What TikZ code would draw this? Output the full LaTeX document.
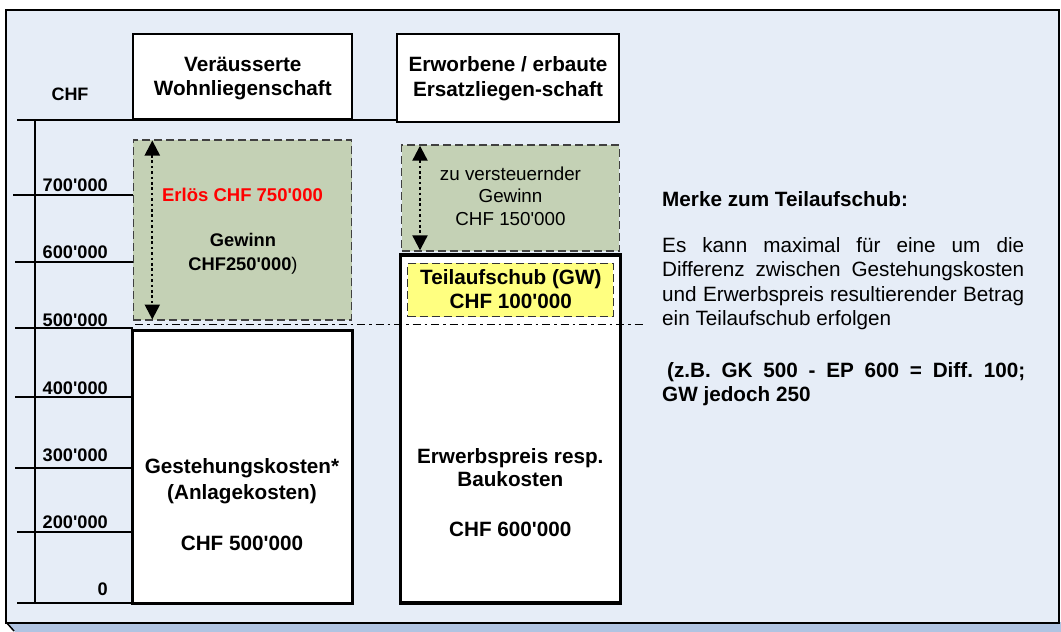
\documentclass[tikz,border=0pt]{standalone}
\usepackage{fontspec}
\setmainfont{Liberation Sans}[Ligatures=TeXOff]
\usetikzlibrary{arrows.meta}
\definecolor{bg}{RGB}{230,237,247}
\definecolor{strip}{RGB}{176,196,226}
\definecolor{gain}{RGB}{196,209,181}
\definecolor{yel}{RGB}{255,255,128}
\definecolor{erl}{RGB}{255,0,0}
\tikzset{
  frame/.style={draw=black, line width=2pt, fill=bg, inner sep=0},
  hdr/.style={draw=black, line width=2.2pt, fill=white, inner sep=0},
  bar/.style={draw=black, line width=3.5pt, fill=white, inner sep=0},
  gainbox/.style={draw=black!75, line width=1.4pt, dash pattern=on 8pt off 4pt, fill=gain, inner sep=0},
  yelbox/.style={draw=black!80, line width=1.4pt, dash pattern=on 8pt off 4pt, fill=yel, inner sep=0},
  axisline/.style={line width=2pt},
  spanarrow/.style={line width=2.2pt, dash pattern=on 2.6pt off 2.8pt,
    {Triangle[length=15pt,width=15pt]}-{Triangle[length=15pt,width=15pt]}},
  refline/.style={line width=1.5pt, dash pattern=on 8pt off 4pt on 2.5pt off 4pt},
  lab/.style={font=\fontsize{18.2}{20}\selectfont\bfseries, anchor=base east, inner sep=0},
  tb/.style={font=\fontsize{20.7}{24}\selectfont\bfseries, anchor=base, inner sep=0},
  tr/.style={font=\fontsize{20.7}{24}\selectfont, anchor=base, inner sep=0},
  ts/.style={font=\fontsize{18.8}{22}\selectfont, anchor=base, inner sep=0},
  tm/.style={font=\fontsize{18.3}{22}\selectfont\bfseries, anchor=base, inner sep=0},
}
\frenchspacing
\begin{document}
\frenchspacing
\begin{tikzpicture}[x=1pt,y=-1pt]
\useasboundingbox (0,0) rectangle (1061,632);
% frame with bottom bevel
\fill[strip] (6,622) -- (1061,622) -- (1061,632) -- (15,632) -- cycle;
\draw[line width=1.5pt] (6,622) -- (14,631);
\node[frame, minimum width=1053pt, minimum height=613pt] (fr) at (532.5,316.5) {};

% axis
\coordinate (atop) at (35,120);
\coordinate (abot) at (35,603);
\coordinate (ltop) at (17,120);
\coordinate (rtop) at (397,120);
\draw[axisline] (ltop) -- (rtop);
\draw[axisline] (atop) -- (abot);
\foreach \y/\x in {195/13, 262/15, 328/15, 396.5/15, 467.5/15, 532.3/17, 603/17}
  \draw[axisline] (\x,\y) -- (133,\y);
\node[lab, anchor=base] (chf) at (70,100.7) {\fontsize{18}{20}\selectfont CHF};
\node[lab] (l700) at (108,191.7) {700'000};
\node[lab] (l600) at (108,258.3) {600'000};
\node[lab] (l500) at (108,326) {500'000};
\node[lab] (l400) at (108,394) {400'000};
\node[lab] (l300) at (108,461.7) {300'000};
\node[lab] (l200) at (108,528.3) {200'000};
\node[lab] (l0) at (108,595) {0};

% headers
\node[hdr, minimum width=219pt, minimum height=85pt] (hl) at (242.8,76.5) {};
\node[tb] (hl1) at (242.8,71) {Veräusserte};
\node[tb] (hl2) at (242.8,95.7) {Wohnliegenschaft};
\node[hdr, minimum width=222.6pt, minimum height=88.3pt] (hr) at (508,78.2) {};
\node[tb] (hr1) at (508,71.7) {Erworbene / erbaute};
\node[tb] (hr2) at (508,96.7) {Ersatzliegen-schaft};

% left column
\node[gainbox, minimum width=218.4pt, minimum height=180pt] (gl) at (242.5,230) {};
\coordinate (glt) at (152.3,140.5);
\coordinate (glb) at (152.3,319.5);
\draw[spanarrow] (glt) -- (glb);
\node[tm, text=erl, font=\fontsize{18.5}{22}\selectfont\bfseries] (erl) at (242.5,201.7) {Erlös CHF 750'000};
\node[tm] (gw1) at (243,246.7) {Gewinn};
\node[tm] (gw2) at (243,270) {CHF250'000\mdseries)};
\node[bar, minimum width=220pt, minimum height=272.6pt] (bl) at (242.7,467) {};
\node[tb] (bl1) at (242,473.3) {Gestehungskosten*};
\node[tb] (bl2) at (242,499.3) {(Anlagekosten)};
\node[tb] (bl3) at (242,550) {CHF 500'000};

% right column
\node[gainbox, minimum width=217.6pt, minimum height=106pt] (gr) at (510.5,198) {};
\coordinate (grt) at (420,145.7);
\coordinate (grb) at (420,250.3);
\draw[spanarrow] (grt) -- (grb);
\node[ts] (zv1) at (510.5,180) {zu versteuernder};
\node[ts] (zv2) at (510.5,202.3) {Gewinn};
\node[ts] (zv3) at (510.5,225.7) {CHF 150'000};
\node[bar, minimum width=220pt, minimum height=347.7pt] (br) at (510.7,428.9) {};
\node[yelbox, minimum width=205.6pt, minimum height=53.4pt] (ta) at (510.5,290) {};
\node[tb] (ta1) at (510.8,284) {Teilaufschub (GW)};
\node[tb] (ta2) at (510.8,308.3) {CHF 100'000};
\node[tb] (br1) at (510.3,463.3) {Erwerbspreis resp.};
\node[tb] (br2) at (510.3,486.5) {Baukosten};
\node[tb] (br3) at (510.3,536) {CHF 600'000};

% reference line at 500'000
\coordinate (rl) at (135,324.5);
\coordinate (rr) at (645,324.5);
\draw[refline] (rl) -- (rr);

% note
\node[tb, anchor=base west] (m0) at (662,206.7) {Merke zum Teilaufschub:};
\node[tr, anchor=base west] (m1) at (662,252.3) {\makebox[362pt][s]{Es kann maximal für eine um die}};
\node[tr, anchor=base west] (m2) at (662,276.7) {\makebox[362pt][s]{Differenz zwischen Gestehungskosten}};
\node[tr, anchor=base west] (m3) at (662,301) {\makebox[362pt][s]{und Erwerbspreis resultierender Betrag}};
\node[tr, anchor=base west] (m4) at (662,325.5) {ein Teilaufschub erfolgen};
\node[tb, anchor=base west] (m5) at (667,377.3) {\makebox[358pt][s]{(z.B. GK 500 - EP 600 = Diff. 100;}};
\node[tb, anchor=base west] (m6) at (662,401) {GW jedoch 250};
\end{tikzpicture}
\end{document}
